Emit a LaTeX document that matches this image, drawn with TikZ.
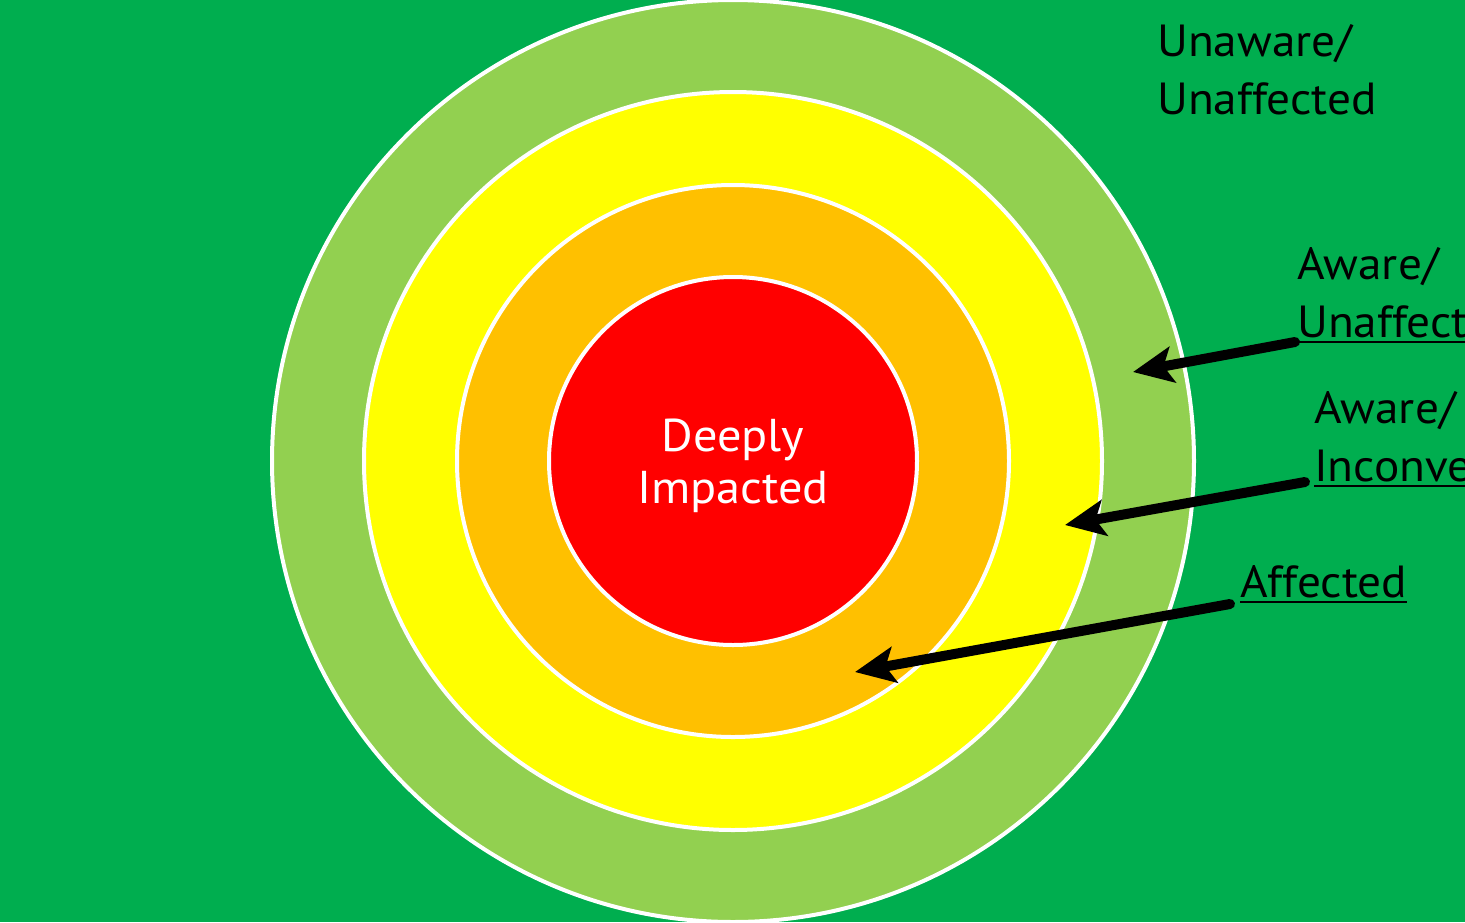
\documentclass[tikz,border=0pt]{standalone}
\usepackage{fontspec}
\setmainfont{PT Sans}[FakeStretch=1.05]
\usetikzlibrary{arrows.meta}
\definecolor{bg}{HTML}{00AE4F}
\definecolor{lgreen}{HTML}{92D050}
\definecolor{yel}{HTML}{FFFF00}
\definecolor{ora}{HTML}{FFC000}
\definecolor{rd}{HTML}{FF0000}
\begin{document}
\begin{tikzpicture}[x=1pt,y=-1pt,
  ring/.style={draw=white,line width=4pt},
  lbl/.style={font=\fontsize{45}{58}\selectfont, anchor=base west, inner sep=0pt, text=black},
  ctr/.style={font=\fontsize{46}{53}\selectfont, anchor=base, inner sep=0pt, text=white},
  uline/.style={line width=2.5pt, black},
  arr/.style={line width=10pt, line cap=round, black, -{Stealth[length=40pt,width=36pt,inset=9pt]}}]
\useasboundingbox (0,0) rectangle (1465,922);
\clip (0,0) rectangle (1465,922);
\fill[bg] (0,0) rectangle (1465,922);
\coordinate (c) at (733,461);
\draw[ring, fill=lgreen] (c) circle[radius=461];
\draw[ring, fill=yel] (c) circle[radius=369];
\draw[ring, fill=ora] (c) circle[radius=276];
\draw[ring, fill=rd] (c) circle[radius=184];
\node[ctr] (d1) at (733,451) {Deeply};
\node[ctr] (d2) at (733,503) {Impacted};
\node[lbl] (u1) at (1157,56) {Unaware/};
\node[lbl] (u2) at (1157,114) {Unaffected};
\node[lbl] (a1) at (1297,279) {Aware/};
\node[lbl] (a2) at (1297,337) {Unaffected};
\node[lbl] (b1) at (1314,423) {Aware/};
\node[lbl] (b2) at (1314,481) {Inconvenienced};
\node[lbl] (f1) at (1240,597) {Affected};
\draw[uline] ([yshift=-5pt]a2.base west) -- ([yshift=-5pt]a2.base east);
\draw[uline] ([yshift=-5pt]b2.base west) -- ([yshift=-5pt]b2.base east);
\draw[uline] ([yshift=-5pt]f1.base west) -- ([yshift=-5pt]f1.base east);
\coordinate (t1) at (1295,342);
\coordinate (h1) at (1133,372);
\coordinate (t2) at (1305,482);
\coordinate (h2) at (1065,525);
\coordinate (t3) at (1230,604);
\coordinate (h3) at (855,672);
\draw[arr] (t1) -- (h1);
\draw[arr] (t2) -- (h2);
\draw[arr] (t3) -- (h3);
\end{tikzpicture}
\end{document}
